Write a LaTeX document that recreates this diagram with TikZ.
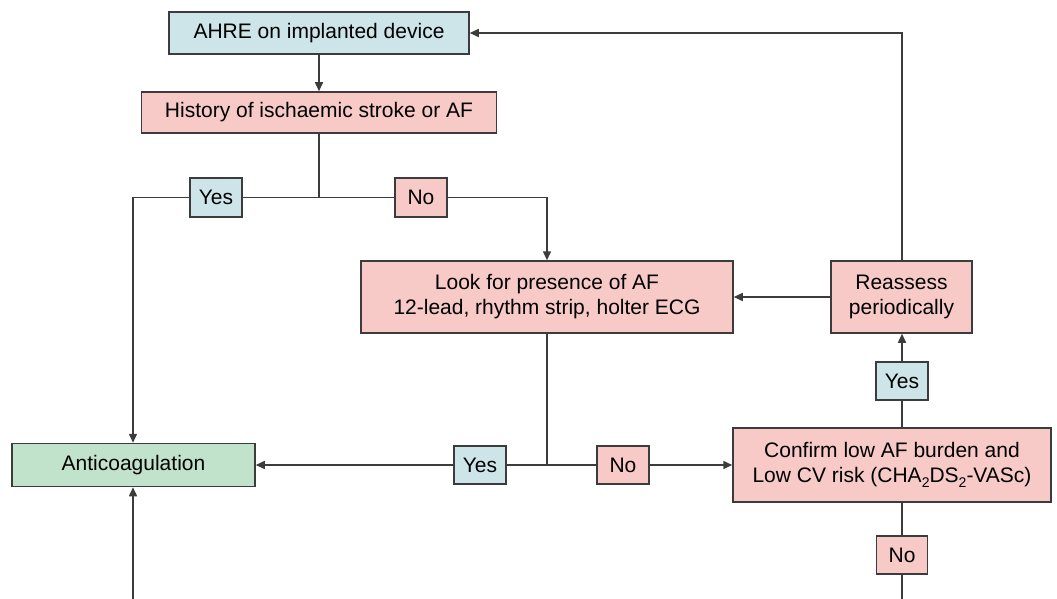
\documentclass[tikz,border=0pt]{standalone}
\usepackage{fontspec}
\setmainfont{Liberation Sans}
\usetikzlibrary{arrows.meta}
\definecolor{bluefill}{HTML}{CDE5E8}
\definecolor{pinkfill}{HTML}{F7CAC8}
\definecolor{greenfill}{HTML}{C2E3CB}
\definecolor{linec}{HTML}{3C3C3C}
\newcommand{\subtwo}{\raisebox{-0.45ex}{\fontsize{14}{14}\selectfont 2}}
\tikzset{
  box/.style={draw=linec, line width=1.5pt, inner sep=0pt, align=center,
    font=\fontsize{21}{25}\selectfont, text=black},
  bluebox/.style={box, fill=bluefill},
  pinkbox/.style={box, fill=pinkfill},
  greenbox/.style={box, fill=greenfill},
  conn/.style={draw=linec, line width=1.5pt},
  arr/.style={conn, -{Triangle[length=9pt,width=8pt]}},
}
\begin{document}
\begin{tikzpicture}[x=1pt,y=-1pt]
\useasboundingbox (0,0) rectangle (1057,599);
% main boxes
\node[bluebox, minimum width=300pt, minimum height=42pt] (ahre) at (319,33) {AHRE on implanted device};
\node[pinkbox, minimum width=355pt, minimum height=41pt] (hist) at (319,112.5) {History of ischaemic stroke or AF};
\node[pinkbox, minimum width=372pt, minimum height=72pt] (look) at (547,297) {Look for presence of AF\\12-lead, rhythm strip, holter ECG};
\node[pinkbox, minimum width=141pt, minimum height=72pt] (reas) at (901.5,297) {Reassess\\periodically};
\node[pinkbox, minimum width=318pt, minimum height=74pt] (conf) at (892,465) {Confirm low AF burden and\\Low CV risk (CHA\subtwo DS\subtwo-VASc)};
\node[greenbox, minimum width=243pt, minimum height=43pt] (anti) at (133.5,465) {Anticoagulation};
% decision labels
\node[bluebox, minimum width=52pt, minimum height=39pt] (yesA) at (216,197.5) {Yes};
\node[pinkbox, minimum width=52pt, minimum height=39pt] (noA) at (421,197.5) {No};
\node[bluebox, minimum width=52pt, minimum height=38pt] (yesB) at (480,465) {Yes};
\node[pinkbox, minimum width=52pt, minimum height=38pt] (noB) at (623,465) {No};
\node[bluebox, minimum width=52pt, minimum height=38pt] (yesC) at (902,381) {Yes};
\node[pinkbox, minimum width=51pt, minimum height=38pt] (noC) at (902,555) {No};
% helper coordinates
\coordinate (j1) at (319,197.5);
\coordinate (j2) at (547,465);
\coordinate (cornL) at (133,197.5);
\coordinate (cornR) at (547,197.5);
\coordinate (topR) at (902,33);
\coordinate (botR) at (902,599);
\coordinate (botL) at (133,599);
% connectors
\draw[arr] (ahre.south) -- (hist.north);
\draw[conn] (hist.south) -- (j1);
\draw[conn] (j1) -- (yesA.east);
\draw[arr] (yesA.west) -- (cornL) -- (anti.north -| cornL);
\draw[conn] (j1) -- (noA.west);
\draw[arr] (noA.east) -- (cornR) -- (look.north);
\draw[conn] (look.south) -- (j2);
\draw[conn] (j2) -- (yesB.east);
\draw[arr] (yesB.west) -- (anti.east);
\draw[conn] (j2) -- (noB.west);
\draw[arr] (noB.east) -- (conf.west);
\draw[conn] (conf.north -| yesC) -- (yesC.south);
\draw[arr] (yesC.north) -- (reas.south -| yesC);
\draw[arr] (reas.west) -- (look.east);
\draw[arr] (reas.north -| topR) -- (topR) -- (ahre.east);
\draw[conn] (conf.south -| noC) -- (noC.north);
\draw[conn] (noC.south) -- (botR -| noC);
\draw[arr] (botL) -- (anti.south -| botL);
\end{tikzpicture}
\end{document}
